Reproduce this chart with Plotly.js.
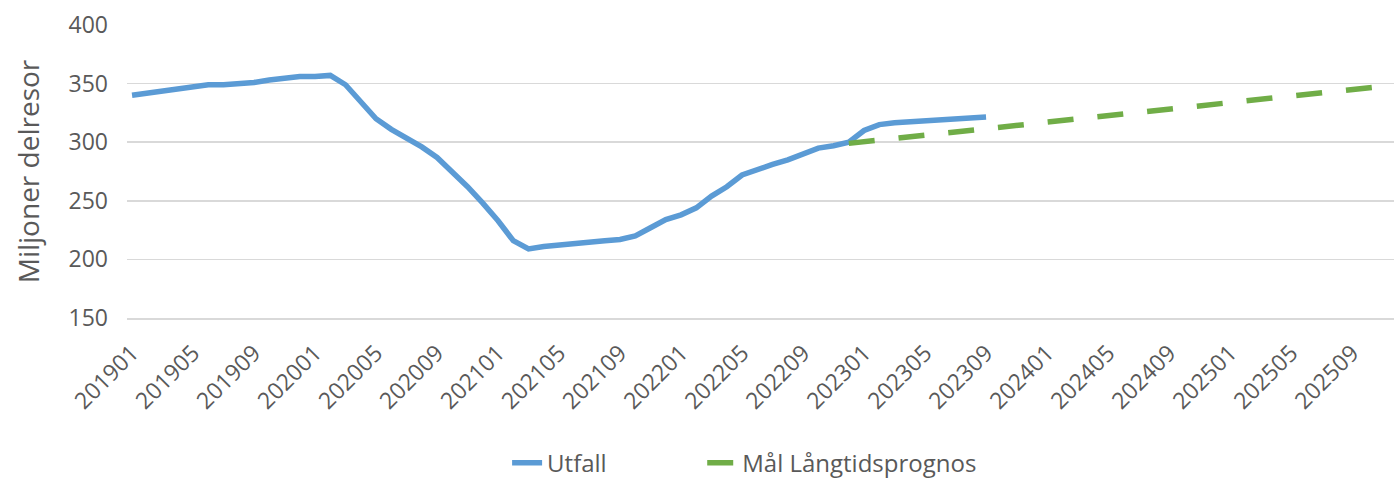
<!DOCTYPE html>
<html>
<head>
<meta charset="utf-8">
<script src="https://cdn.plot.ly/plotly-3.0.1.min.js"></script>
<style>
  html, body { margin: 0; padding: 0; background: #ffffff; }
  #chart { width: 1394px; height: 486px; }
</style>
</head>
<body>
<div id="chart"></div>
<script>
const months = [
  "201901","201902","201903","201904","201905","201906","201907","201908","201909","201910","201911","201912",
  "202001","202002","202003","202004","202005","202006","202007","202008","202009","202010","202011","202012",
  "202101","202102","202103","202104","202105","202106","202107","202108","202109","202110","202111","202112",
  "202201","202202","202203","202204","202205","202206","202207","202208","202209","202210","202211","202212",
  "202301","202302","202303","202304","202305","202306","202307","202308","202309","202310","202311","202312",
  "202401","202402","202403","202404","202405","202406","202407","202408","202409","202410","202411","202412",
  "202501","202502","202503","202504","202505","202506","202507","202508","202509","202510","202511","202512"
];

const utfallMonths = months.slice(0, 57);   // 201901 .. 202309
const utfall = [
  340, 342, 344, 346, 348, 349, 349, 349.5, 351, 353, 355, 356,
  356, 357, 349, 335, 320, 311, 304, 296, 287, 275, 262, 248,
  233, 216, 209, 211, 212.5, 214, 215, 216, 217, 220, 227, 234,
  238, 244, 254, 262, 272, 277, 281, 285, 290, 295, 297, 300,
  310, 315, 316.5, 317.5, 318.5, 319.5, 320.5, 321, 321.5
];

const prognosMonths = months.slice(47);     // 202212 .. 202512
const prognos = [
  299, 300.4, 301.8, 303.2, 304.6, 305.9, 307.3, 308.7, 310.1, 311.5, 312.9, 314.3,
  315.7, 317.1, 318.5, 319.9, 321.3, 322.7, 324.0, 325.4, 326.8, 328.2, 329.6, 331.0,
  332.4, 333.8, 335.2, 336.6, 338.0, 339.4, 340.8, 342.2, 343.5, 344.9, 346.3, 347.7, 349.1
];

const tickLabels = months.filter((m, i) => i % 4 === 0);

const seriesNames = ["Utfall", "Mål Långtidsprognos"];

const traces = [
  {
    x: utfallMonths, y: utfall, type: "scatter", mode: "lines", name: seriesNames[0],
    line: { color: "#5B9BD5", width: 5.5, shape: "linear" },
    legend: "legend"
  },
  {
    x: prognosMonths, y: prognos, type: "scatter", mode: "lines", name: seriesNames[1],
    line: { color: "#70AD47", width: 5.5, dash: "26px,24px" },
    legend: "legend2"
  }
];

const textColor = "#595959";
const legendBase = {
  orientation: "h", y: -0.572, yanchor: "bottom", xanchor: "left",
  font: { size: 24, color: textColor }, bgcolor: "rgba(0,0,0,0)"
};
const layout = {
  width: 1394, height: 486,
  margin: { l: 127, r: 0, t: 25, b: 168 },
  paper_bgcolor: "#ffffff", plot_bgcolor: "#ffffff",
  font: { family: "Open Sans, sans-serif", color: textColor },
  showlegend: true,
  legend: Object.assign({}, legendBase, { x: 0.300 }),
  legend2: Object.assign({}, legendBase, { x: 0.454 }),
  xaxis: {
    type: "category",
    categoryorder: "array", categoryarray: months,
    range: [-0.33, 82.75],
    tickmode: "array", tickvals: tickLabels, ticktext: tickLabels,
    tickangle: -45,
    tickfont: { size: 23, color: textColor },
    ticklabelstandoff: 11,
    automargin: false,
    showgrid: false, zeroline: false,
    showline: true, linecolor: "#d9d9d9", linewidth: 1.5,
    ticks: "", fixedrange: true
  },
  yaxis: {
    range: [150, 400], dtick: 50, tick0: 150,
    tickfont: { size: 23, color: textColor },
    gridcolor: "#d9d9d9", gridwidth: 1.5,
    zeroline: false, showline: false, ticks: "",
    ticklabelstandoff: 18,
    title: { text: "Miljoner delresor", font: { size: 28, color: textColor }, standoff: 20 },
    fixedrange: true
  }
};

Plotly.newPlot("chart", traces, layout, { displayModeBar: false, staticPlot: true });
</script>
</body>
</html>
